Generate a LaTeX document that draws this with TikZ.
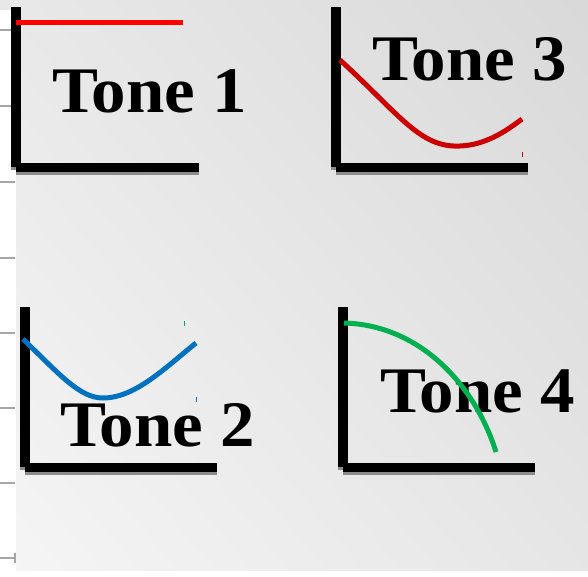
\documentclass[tikz,border=0pt]{standalone}
\usepackage{fontspec}
\setmainfont{Liberation Serif}[FakeStretch=1.06]
\usetikzlibrary{shadings}

\begin{document}
\begin{tikzpicture}[x=1pt, y=-1pt,
  axisbar/.style={fill=black},
  axisshadow/.style={fill=black!45},
  tonecurve/.style={line width=5pt},
  tonelabel/.style={font=\fontsize{65}{78}\bfseries\selectfont,
    inner sep=0pt, anchor=base west},
  sidetick/.style={draw=black!35, line width=1.5pt}]
  \useasboundingbox (0,0) rectangle (588,577);

  % Slide background
  \fill[white] (0,0) rectangle (588,577);
  \shade[upper left=black!9, upper right=black!15, lower left=black!4,
    lower right=black!10] (16,0) rectangle (588,570);
  \fill[black!9] (0,0) rectangle (16,10);

  % Ruler ticks on the left edge
  \foreach \ty in {30,106,182,258,333,408,483,558}
    \draw[sidetick] (0,\ty) -- (15,\ty);
  \draw[sidetick] (15,553) -- (15,563);

  % Axes with drop shadow
  \foreach \ax/\ay/\ex in {11/7/199, 331/7/528, 20/307/217, 338/307/535} {
    \fill[axisshadow] (\ax-0.5,\ay+3) rectangle (\ax+9.5,\ay+163);
    \fill[axisshadow] (\ax+4.5,\ay+159) rectangle (\ex-0.5,\ay+168);
    \fill[axisbar] (\ax,\ay) rectangle (\ax+10,\ay+160);
    \fill[axisbar] (\ax+5,\ay+156) rectangle (\ex,\ay+165);
  }

  % Labels
  \node[tonelabel] (tone1) at (52,113) {Tone 1};
  \node[tonelabel] (tone3) at (372,81) {Tone 3};
  \node[tonelabel] (tone2) at (60,446) {Tone 2};
  \node[tonelabel] (tone4) at (380,412) {Tone 4};

  % Tone 1: level
  \draw[tonecurve, red] (16,23) -- (183,23);

  % Tone 3: falling then rising
  \draw[tonecurve, red!80!black] (340,60)
    .. controls (400,115) and (420,148) .. (460,146)
    .. controls (485,145) and (505,132) .. (522,119);
  \draw[red!80!black, line width=1pt] (522,152) -- (522,157);

  % Tone 2: dipping
  \draw[tonecurve, color={rgb,255:red,0;green,112;blue,192}] (23,339)
    .. controls (60,375) and (80,398) .. (103,398)
    .. controls (135,398) and (165,368) .. (196,343);
  \draw[color={rgb,255:red,0;green,176;blue,80}, line width=1pt]
    (184,321) -- (184,326);
  \draw[color={rgb,255:red,0;green,112;blue,192}, line width=1pt]
    (196,397) -- (196,402);

  % Tone 4: falling
  \draw[tonecurve, color={rgb,255:red,0;green,176;blue,80}] (344,323)
    .. controls (420,325) and (475,385) .. (496,452);
\end{tikzpicture}
\end{document}
